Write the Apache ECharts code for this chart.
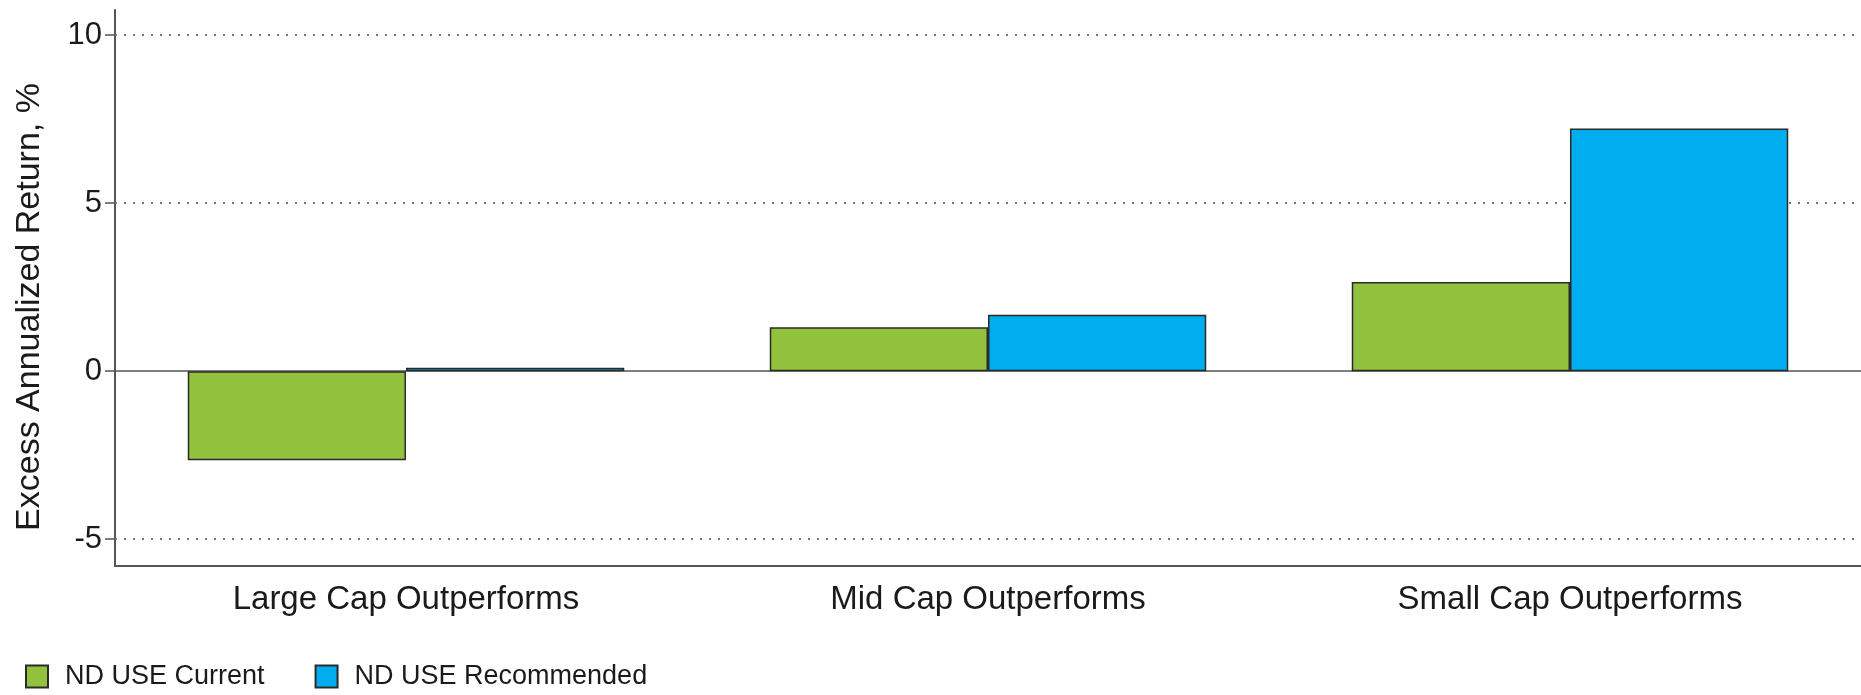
<!DOCTYPE html>
<html>
<head>
<meta charset="utf-8">
<script src="https://cdn.jsdelivr.net/npm/echarts@6/dist/echarts.min.js"></script>
<style>html,body{margin:0;padding:0;background:#fff}#c{width:1861px;height:695px}</style>
</head>
<body>
<div id="c"></div>
<script>
const categories = ['Large Cap Outperforms', 'Mid Cap Outperforms', 'Small Cap Outperforms'];
const seriesNames = ['ND USE Current', 'ND USE Recommended'];
const currentValues = [-2.65, 1.31, 2.65];
const recommendedValues = [0.1, 1.68, 7.22];
const yTicks = [-5, 0, 5, 10];
const gridValues = [-5, 5, 10];
const yMin = -5.8, yMax = 10.75;
const yAxisTitle = 'Excess Annualized Return, %';

const FONT = 'Liberation Sans, Arial, sans-serif';
const chart = echarts.init(document.getElementById('c'));
chart.setOption({
  animation: false,
  backgroundColor: '#fff',
  grid: { left: 115, right: 0, top: 10, bottom: 129, containLabel: false },
  xAxis: {
    type: 'category', data: categories,
    axisLine: { onZero: false, lineStyle: { color: '#555', width: 2 } },
    axisTick: { alignWithLabel: true, length: 9, lineStyle: { color: '#555', width: 1.5 } },
    axisLabel: { color: '#1a1a1a', fontSize: 33, fontFamily: FONT, margin: 17 }
  },
  yAxis: {
    type: 'value', min: yMin, max: yMax,
    axisLine: { show: true, lineStyle: { color: '#555', width: 2 } },
    axisTick: { show: true, length: 10, customValues: yTicks, lineStyle: { color: '#555', width: 1.5 } },
    axisLabel: { color: '#1a1a1a', fontSize: 31, fontFamily: FONT, margin: 13, customValues: yTicks },
    splitLine: { show: false }
  },
  legend: {
    left: 20, bottom: 0, icon: 'rect', itemWidth: 22, itemHeight: 22, itemGap: 50,
    textStyle: { color: '#1a1a1a', fontSize: 27, fontFamily: FONT, padding: [0, 0, 0, 12] },
    data: seriesNames
  },
  graphic: [{
    type: 'text', x: 30, y: 307, rotation: Math.PI / 2,
    style: { text: yAxisTitle, fill: '#1a1a1a', font: '34px ' + FONT, textAlign: 'center', textVerticalAlign: 'middle' }
  }],
  series: [
    {
      type: 'line', data: [], z: 1, silent: true,
      markLine: {
        silent: true, symbol: 'none', z: 1, label: { show: false },
        data: gridValues.map(v => ({ yAxis: v, lineStyle: { type: [2, 7], color: '#777', width: 1.8 } }))
          .concat([{ yAxis: 0, lineStyle: { type: 'solid', color: '#555', width: 1.5 } }])
      }
    },
    {
      name: seriesNames[0], type: 'bar', data: currentValues, z: 3,
      barGap: '0%', barCategoryGap: '25%',
      itemStyle: { color: '#92C13D', borderColor: '#2a2a2a', borderWidth: 1.5 }
    },
    {
      name: seriesNames[1], type: 'bar', data: recommendedValues, z: 3,
      barGap: '0%', barCategoryGap: '25%',
      itemStyle: { color: '#00ADEE', borderColor: '#2a2a2a', borderWidth: 1.5 }
    }
  ]
});
</script>
</body>
</html>
